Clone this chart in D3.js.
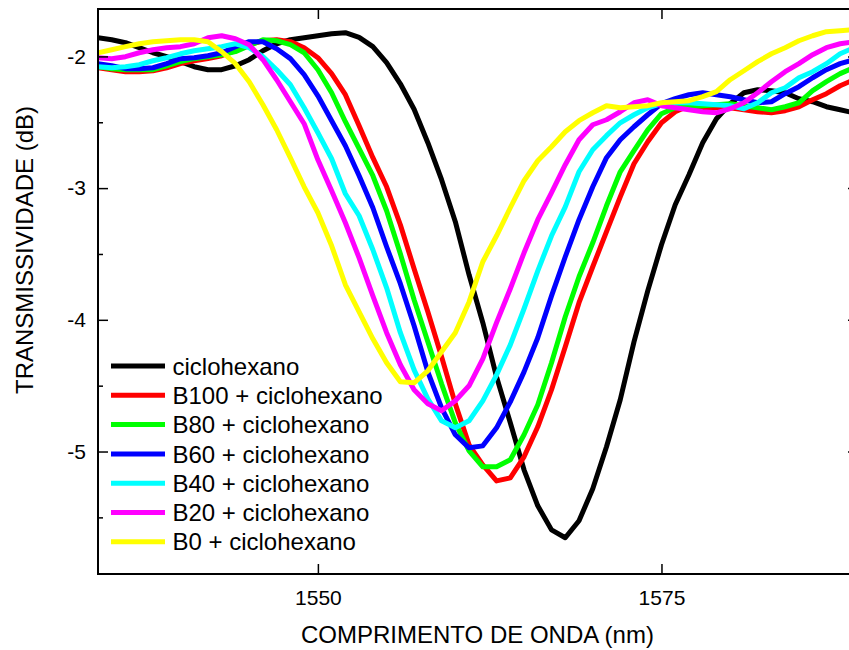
<!DOCTYPE html>
<html>
<head>
<meta charset="utf-8">
<script src="https://cdn.jsdelivr.net/npm/d3@7"></script>
<style>
  html, body { margin: 0; padding: 0; background: #fff; }
  svg { display: block; }
  text { font-family: Arial, "Liberation Sans", sans-serif; fill: #000; }
</style>
</head>
<body>
<svg id="chart" width="849" height="650"></svg>
<script>
// ---- data ----
const wavelength = [1534,1535,1536,1537,1538,1539,1540,1541,1542,1543,1544,1545,1546,1547,1548,1549,
  1550,1551,1552,1553,1554,1555,1556,1557,1558,1559,1560,1561,1562,1563,1564,1565,1566,1567,1568,1569,
  1570,1571,1572,1573,1574,1575,1576,1577,1578,1579,1580,1581,1582,1583,1584,1585,1586,1587,1588,1589];

const ciclohexano = [-1.858,-1.873,-1.896,-1.934,-1.972,-2.002,-2.040,-2.078,-2.101,-2.101,-2.071,-2.025,-1.957,-1.904,-1.873,-1.858,
  -1.843,-1.828,-1.820,-1.855,-1.926,-2.048,-2.208,-2.401,-2.655,-2.936,-3.255,-3.658,-4.022,-4.433,-4.782,-5.139,-5.412,-5.595,-5.655,-5.526,
  -5.283,-4.964,-4.607,-4.167,-3.780,-3.430,-3.126,-2.898,-2.655,-2.473,-2.359,-2.276,-2.253,-2.261,-2.276,-2.321,-2.344,-2.382,-2.405,-2.428];

const b100 = [-2.086,-2.101,-2.116,-2.116,-2.109,-2.086,-2.055,-2.033,-2.017,-1.995,-1.957,-1.911,-1.881,-1.873,-1.888,-1.934,
  -2.010,-2.131,-2.291,-2.526,-2.769,-2.990,-3.278,-3.612,-3.939,-4.281,-4.638,-4.949,-5.101,-5.223,-5.200,-5.040,-4.812,-4.531,-4.205,-3.870,
  -3.597,-3.331,-3.066,-2.815,-2.648,-2.504,-2.420,-2.374,-2.397,-2.390,-2.390,-2.405,-2.420,-2.428,-2.412,-2.382,-2.329,-2.283,-2.223,-2.177];

const b80 = [-2.078,-2.093,-2.101,-2.101,-2.101,-2.071,-2.040,-2.017,-2.002,-1.987,-1.964,-1.919,-1.873,-1.881,-1.911,-1.972,
  -2.101,-2.276,-2.496,-2.701,-2.906,-3.172,-3.499,-3.848,-4.167,-4.486,-4.782,-4.995,-5.116,-5.116,-5.063,-4.873,-4.645,-4.326,-3.977,-3.673,
  -3.415,-3.134,-2.876,-2.716,-2.557,-2.435,-2.390,-2.382,-2.374,-2.367,-2.359,-2.374,-2.390,-2.405,-2.382,-2.352,-2.260,-2.192,-2.131,-2.086];

const b60 = [-2.055,-2.071,-2.093,-2.093,-2.086,-2.055,-2.017,-2.010,-1.995,-1.972,-1.926,-1.888,-1.888,-1.942,-2.017,-2.139,
  -2.299,-2.488,-2.678,-2.906,-3.149,-3.445,-3.726,-4.045,-4.395,-4.668,-4.873,-4.972,-4.957,-4.820,-4.623,-4.395,-4.136,-3.818,-3.521,-3.240,
  -2.990,-2.769,-2.633,-2.534,-2.443,-2.359,-2.321,-2.291,-2.276,-2.291,-2.306,-2.329,-2.352,-2.344,-2.283,-2.230,-2.162,-2.101,-2.055,-2.025];

const b40 = [-2.078,-2.086,-2.078,-2.063,-2.033,-2.010,-1.980,-1.957,-1.942,-1.926,-1.904,-1.934,-2.002,-2.101,-2.215,-2.390,
  -2.580,-2.777,-3.043,-3.210,-3.468,-3.757,-4.098,-4.380,-4.600,-4.767,-4.820,-4.767,-4.615,-4.418,-4.190,-3.916,-3.628,-3.362,-3.142,-2.876,
  -2.709,-2.602,-2.504,-2.443,-2.390,-2.359,-2.352,-2.352,-2.359,-2.367,-2.374,-2.397,-2.352,-2.276,-2.238,-2.162,-2.116,-2.055,-1.980,-1.934];

const b20 = [-2.010,-2.017,-2.002,-1.972,-1.949,-1.934,-1.926,-1.904,-1.858,-1.843,-1.866,-1.911,-2.025,-2.177,-2.344,-2.511,
  -2.785,-3.020,-3.263,-3.530,-3.818,-4.098,-4.341,-4.531,-4.638,-4.691,-4.615,-4.501,-4.296,-4.022,-3.764,-3.491,-3.240,-3.035,-2.822,-2.633,
  -2.519,-2.481,-2.420,-2.352,-2.329,-2.374,-2.390,-2.405,-2.420,-2.428,-2.397,-2.352,-2.276,-2.192,-2.116,-2.055,-1.987,-1.934,-1.904,-1.888];

const b0 = [-1.972,-1.949,-1.926,-1.904,-1.888,-1.881,-1.873,-1.873,-1.888,-1.964,-2.055,-2.192,-2.367,-2.557,-2.770,-2.990,
  -3.187,-3.438,-3.734,-3.939,-4.144,-4.326,-4.470,-4.478,-4.387,-4.243,-4.098,-3.864,-3.559,-3.362,-3.149,-2.944,-2.792,-2.686,-2.572,-2.488,
  -2.428,-2.374,-2.390,-2.382,-2.374,-2.352,-2.344,-2.336,-2.306,-2.268,-2.177,-2.109,-2.040,-1.980,-1.934,-1.881,-1.843,-1.812,-1.805,-1.797];

const seriesNames = ["ciclohexano", "B100 + ciclohexano", "B80 + ciclohexano", "B60 + ciclohexano",
  "B40 + ciclohexano", "B20 + ciclohexano", "B0 + ciclohexano"];
const seriesValues = [ciclohexano, b100, b80, b60, b40, b20, b0];
const seriesColors = ["#000000", "#ff0000", "#00ff00", "#0000ff", "#00ffff", "#ff00ff", "#ffff00"];

const xTicks = [1550, 1575];
const yTicks = [-2, -3, -4, -5];
const yMinorTicks = [-2.5, -3.5, -4.5, -5.5];
const xTitle = "COMPRIMENTO DE ONDA (nm)";
const yTitle = "TRANSMISSIVIDADE (dB)";

// ---- layout ----
const L = 98, R = 858, T = 9, B = 574;
const svg = d3.select("#chart");

const x = d3.scaleLinear().domain([1534, 1589.3]).range([L, R]);
const y = d3.scaleLinear().domain([-5.93, -1.64]).range([B, T]);

svg.append("defs").append("clipPath").attr("id", "plotclip")
  .append("rect").attr("x", L).attr("y", T).attr("width", R - L).attr("height", B - T);

// series lines
const line = d3.line().x((d, i) => x(wavelength[i])).y(d => y(d));
const gLines = svg.append("g").attr("clip-path", "url(#plotclip)");
seriesValues.forEach((vals, k) => {
  gLines.append("path")
    .attr("d", line(vals))
    .attr("fill", "none")
    .attr("stroke", seriesColors[k])
    .attr("stroke-width", 5)
    .attr("stroke-linejoin", "round")
    .attr("stroke-linecap", "round");
});

// axes
const axisStyle = g => {
  g.select(".domain").remove();
  g.selectAll(".tick line").attr("stroke", "#000").attr("stroke-width", 1.5);
  g.selectAll(".tick text").attr("font-size", 21).attr("fill", "#000")
    .style("font-family", "Arial, 'Liberation Sans', sans-serif");
};

svg.append("g").attr("transform", `translate(0,${B})`)
  .call(d3.axisBottom(x).tickValues(xTicks).tickSize(-10).tickPadding(16).tickFormat(d => String(d)))
  .call(axisStyle);
svg.append("g").attr("transform", `translate(0,${T})`)
  .call(d3.axisTop(x).tickValues(xTicks).tickSize(-10).tickFormat(""))
  .call(axisStyle);
svg.append("g").attr("transform", `translate(${L},0)`)
  .call(d3.axisLeft(y).tickValues(yTicks).tickSize(-10).tickPadding(12).tickFormat(d => String(d)))
  .call(axisStyle);
svg.append("g").attr("transform", `translate(${L},0)`)
  .call(d3.axisLeft(y).tickValues(yMinorTicks).tickSize(-5).tickFormat(""))
  .call(axisStyle);
svg.append("g").attr("transform", `translate(${R},0)`)
  .call(d3.axisRight(y).tickValues(yTicks).tickSize(-10).tickFormat(""))
  .call(axisStyle);
svg.append("g").attr("transform", `translate(${R},0)`)
  .call(d3.axisRight(y).tickValues(yMinorTicks).tickSize(-5).tickFormat(""))
  .call(axisStyle);

// frame
svg.append("rect").attr("x", L).attr("y", T).attr("width", R - L).attr("height", B - T)
  .attr("fill", "none").attr("stroke", "#000").attr("stroke-width", 2);

// titles
svg.append("text").attr("x", 477.5).attr("y", 643).attr("text-anchor", "middle")
  .attr("font-size", 24).text(xTitle);
svg.append("text").attr("transform", "translate(33,250) rotate(-90)").attr("text-anchor", "middle")
  .attr("font-size", 24).text(yTitle);

// legend
const legend = svg.append("g");
seriesNames.forEach((name, k) => {
  const ly = 366 + k * 29.3;
  legend.append("line").attr("x1", 111).attr("x2", 165).attr("y1", ly).attr("y2", ly)
    .attr("stroke", seriesColors[k]).attr("stroke-width", 5);
  legend.append("text").attr("x", 172.5).attr("y", ly).attr("dy", "0.36em")
    .attr("font-size", 24).text(name);
});
</script>
</body>
</html>
